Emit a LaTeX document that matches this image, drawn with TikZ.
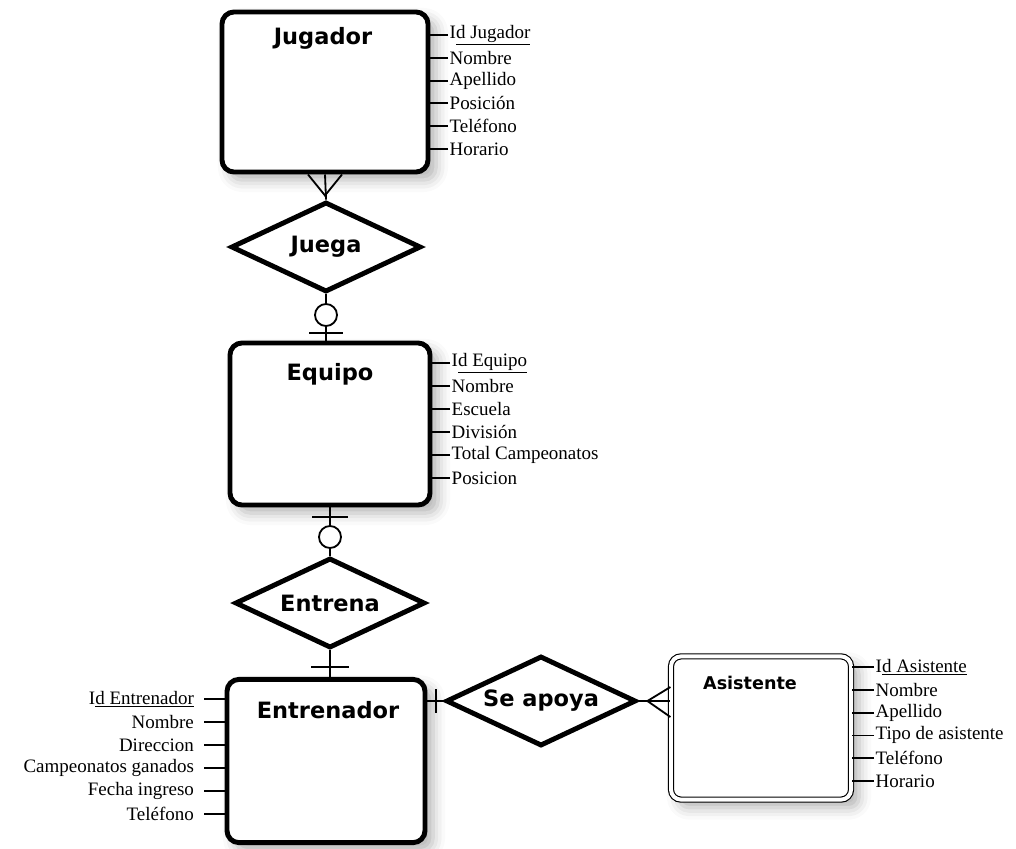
\documentclass[tikz,border=0pt]{standalone}
\usepackage{fontspec}
\setmainfont{Liberation Serif}
\newfontfamily\titlefont{DejaVu Sans}
\usetikzlibrary{shapes.geometric,calc,shadows.blur}
\definecolor{glow}{RGB}{150,150,215}

\begin{document}
\begin{tikzpicture}[x=0.025cm, y=-0.025cm,
  entity/.style={draw, line width=3.5pt, rounded corners=0.3cm, inner sep=0pt,
    blur shadow={shadow xshift=0.2cm, shadow yshift=-0.2cm, shadow blur radius=0.3cm, shadow opacity=30, fill=glow}, fill=white},
  relation/.style={diamond, aspect=2.1, draw, line width=3.5pt, fill=white, inner sep=0pt,
    minimum width=4.75cm, minimum height=2.25cm, font=\titlefont\bfseries\fontsize{16}{19}\selectfont},
  title/.style={font=\titlefont\bfseries\fontsize{16}{19}\selectfont},
  attr/.style={font=\fontsize{13.5}{16}\selectfont, inner sep=1pt},
  link/.style={line width=1.3pt},
  ring/.style={circle, draw, link, fill=white, inner sep=0pt, minimum size=0.55cm},
]
\useasboundingbox (0,0) rectangle (1016,848);

% Jugador
\node[entity, minimum width=5.15cm, minimum height=4cm] (jug) at (325,92) {};
\node[title] (jugT) at (323,38) {Jugador};
\foreach \t [count=\i] in {I\underline{d Jugador}, Nombre, Apellido, Posición, Teléfono, Horario}{
  \node[attr, anchor=west] (ja\i) at (448,{35+22.8*(\i-1)}) {\t};
  \draw[link] (ja\i.west) -- (ja\i.west -| jug.east);
}

% Juega
\node[relation] (juega) at (326,247) {Juega};
\draw[link] (jug.south) -- (juega.north);
\draw[link] ($(jug.south)+(-17,0)$) -- ($(jug.south)+(0,21)$) -- ($(jug.south)+(17,0)$);

% Equipo
\node[entity, minimum width=5cm, minimum height=4.05cm] (equ) at (330,424) {};
\node[title] (equT) at (330,374) {Equipo};
\foreach \t [count=\i] in {I\underline{d Equipo}, Nombre, Escuela, División, Total Campeonatos, Posicion}{
  \node[attr, anchor=west] (qa\i) at (450,{363+23*(\i-1)}) {\t};
  \draw[link] (qa\i.west) -- (qa\i.west -| equ.east);
}
\draw[link] (juega.south) -- (juega.south |- equ.north);
\node[ring] (r1) at (326,315) {};
\draw[link] (309,333) -- (343,333);

% Entrena
\node[relation] (entrena) at (330,603) {Entrena};
\draw[link] (entrena.north) -- (entrena.north |- equ.south);
\draw[link] (312,517) -- (348,517);
\node[ring] (r2) at (330,537) {};

% Entrenador
\node[entity, minimum width=4.95cm, minimum height=4.08cm] (ent) at (326,761) {};
\node[title] (entT) at (328,710) {Entrenador};
\draw[link] (entrena.south) -- (entrena.south |- ent.north);
\draw[link] (311,667) -- (349,667);
\foreach \t [count=\i] in {I\underline{d Entrenador}, Nombre, Direccion, Campeonatos ganados, Fecha ingreso, Teléfono}{
  \node[attr, anchor=east, inner xsep=7pt] (ea\i) at (204,{699+23*(\i-1)}) {\t};
  \draw[link] (ea\i.east) -- (ea\i.east -| ent.west);
}

% Se apoya
\node[relation] (apoya) at (541,701) {Se apoya};
\draw[link] (apoya.west) -- (apoya.west -| ent.east);
\draw[link] (436,689) -- (436,713);

% Asistente
\node[entity, line width=0.8pt, draw, double=white, double distance=2.8pt,
  minimum width=4.5cm, minimum height=3.58cm, rounded corners=0.25cm] (asis) at (761,728) {};
\node[title, font=\titlefont\bfseries\fontsize{12.5}{15}\selectfont] (asisT) at (750,683) {Asistente};
\draw[link] (apoya.east) -- (apoya.east -| asis.west);
\draw[link] ($(apoya.east -| asis.west)+(0,-14)$) -- ($(apoya.east -| asis.west)+(-23,0)$) -- ($(apoya.east -| asis.west)+(0,16)$);
\foreach \t [count=\i] in {I\underline{d Asistente}, Nombre, Apellido, Tipo de asistente, Teléfono, Horario}{
  \node[attr, anchor=west] (aa\i) at (874,{667+22.8*(\i-1)}) {\t};
  \draw[link] (aa\i.west) -- (aa\i.west -| asis.east);
}
\end{tikzpicture}
\end{document}
